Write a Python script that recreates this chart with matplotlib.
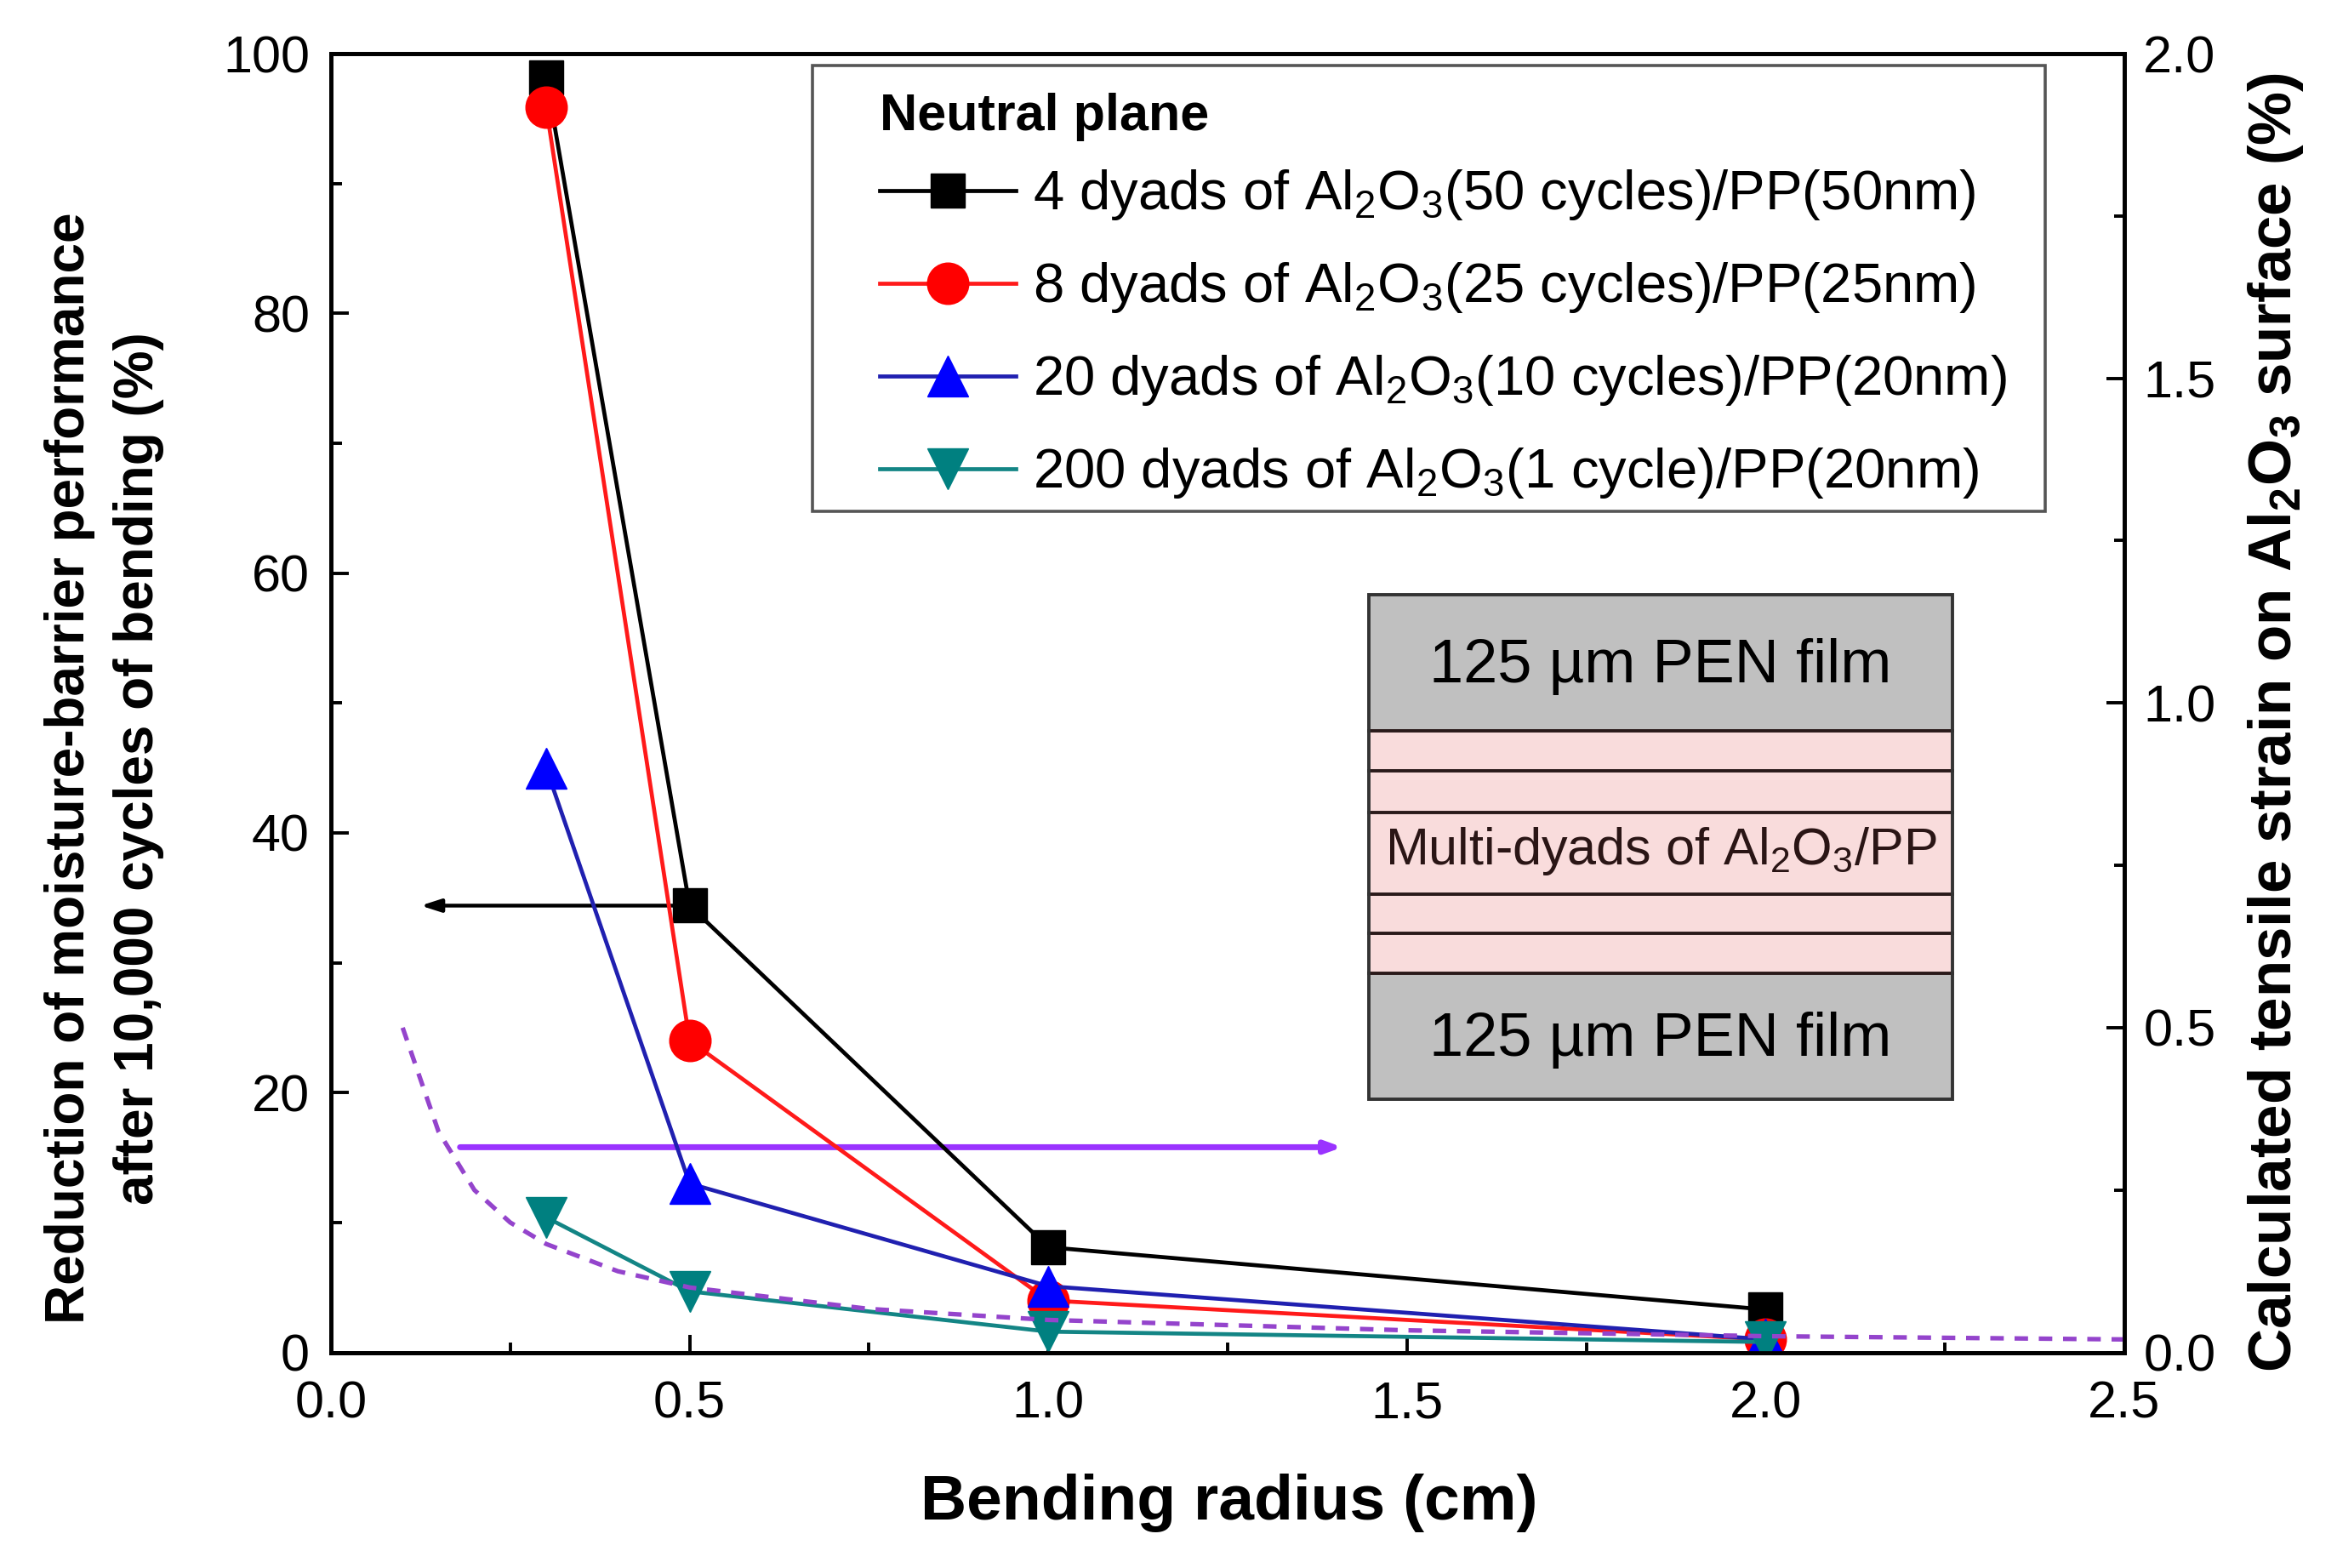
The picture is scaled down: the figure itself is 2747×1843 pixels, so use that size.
import matplotlib
matplotlib.use("Agg")
import matplotlib.pyplot as plt
from matplotlib.patches import Rectangle
from matplotlib.ticker import MultipleLocator, FormatStrFormatter

plt.rcParams['font.family'] = ['Liberation Sans', 'DejaVu Sans']
plt.rcParams['mathtext.fontset'] = 'custom'
plt.rcParams['mathtext.rm'] = 'Liberation Sans'
plt.rcParams['mathtext.it'] = 'Liberation Sans:italic'
plt.rcParams['mathtext.bf'] = 'Liberation Sans:bold'

# ---------------- data ----------------
radius = [0.3, 0.5, 1.0, 2.0]
dyads4 = [98.2, 34.4, 8.1, 3.3]
dyads8 = [95.9, 24.0, 4.0, 1.0]
dyads20 = [45.0, 13.0, 5.1, 1.0]
dyads200 = [10.4, 4.7, 1.6, 0.8]

labels = [
    "4 dyads of Al$_2$O$_3$(50 cycles)/PP(50nm)",
    "8 dyads of Al$_2$O$_3$(25 cycles)/PP(25nm)",
    "20 dyads of Al$_2$O$_3$(10 cycles)/PP(20nm)",
    "200 dyads of Al$_2$O$_3$(1 cycle)/PP(20nm)",
]
legend_title = "Neutral plane"

# calculated strain (right axis)
strain_r = [0.1, 0.15, 0.2, 0.25, 0.3, 0.4, 0.5, 0.75, 1.0, 1.5, 2.0, 2.5]
strain_v = [0.50, 0.34, 0.25, 0.20, 0.167, 0.125, 0.10, 0.067, 0.05, 0.034, 0.025, 0.02]

xticks = [0.0, 0.5, 1.0, 1.5, 2.0, 2.5]
yticks_left = [0, 20, 40, 60, 80, 100]
yticks_right = [0.0, 0.5, 1.0, 1.5, 2.0]

# ---------------- figure ----------------
fig = plt.figure(figsize=(27.47, 18.43), dpi=100)
ax = fig.add_axes([0.1416, 0.1375, 0.9090 - 0.1416, 0.9658 - 0.1375])
ax2 = ax.twinx()

lw = 3.4
ax.plot(radius, dyads4, color='black', lw=lw, marker='s', ms=29,
        mfc='black', mec='black', label=labels[0], zorder=3)
ax.plot(radius, dyads8, color='#ff1a1a', lw=lw, marker='o', ms=35,
        mfc='#ff0000', mec='#ff0000', label=labels[1], zorder=3)
ax.plot(radius, dyads20, color='#2020b0', lw=lw, marker='^', ms=35,
        mfc='#0000ff', mec='#0000ff', label=labels[2], zorder=3)
ax.plot(radius, dyads200, color='#138585', lw=lw, marker='v', ms=35,
        mfc='#008080', mec='#008080', label=labels[3], zorder=3)

ax2.plot(strain_r, strain_v, color='#9444cc', lw=3.8, ls=(0, (3.0, 2.4)), zorder=2)

# arrows
ax.annotate('', xy=(0.125, 34.4), xytext=(0.5, 34.4),
            arrowprops=dict(arrowstyle='-|>,head_length=1.4,head_width=0.45',
                            color='black', lw=3.2, shrinkA=0, shrinkB=0), zorder=2)
ax.annotate('', xy=(1.41, 15.8), xytext=(0.18, 15.8),
            arrowprops=dict(arrowstyle='-|>,head_length=1.1,head_width=0.4',
                            color='#9a33ff', lw=5.0, shrinkA=0, shrinkB=0), zorder=2)

# axes limits & ticks
ax.set_xlim(0, 2.5)
ax.set_ylim(0, 100)
ax2.set_ylim(0, 2.0)
ax.set_xticks(xticks)
ax.set_yticks(yticks_left)
ax2.set_yticks(yticks_right)
ax.xaxis.set_minor_locator(MultipleLocator(0.25))
ax.yaxis.set_minor_locator(MultipleLocator(10))
ax2.yaxis.set_minor_locator(MultipleLocator(0.25))
ax.xaxis.set_major_formatter(FormatStrFormatter('%.1f'))
ax2.yaxis.set_major_formatter(FormatStrFormatter('%.1f'))

ax.tick_params(axis='x', which='both', direction='in', top=False, labelsize=44, pad=24)
ax.tick_params(axis='y', which='both', direction='in', right=False, labelsize=44, pad=18)
ax.tick_params(which='major', length=15, width=2.8)
ax.tick_params(which='minor', length=9, width=2.8)
ax2.tick_params(axis='y', which='both', direction='in', labelsize=44, pad=16)
ax2.tick_params(which='major', length=15, width=2.8)
ax2.tick_params(which='minor', length=9, width=2.8)

for a in (ax, ax2):
    for s in a.spines.values():
        s.set_linewidth(3.4)

ax.set_xlabel('Bending radius (cm)', fontsize=54, fontweight='bold')
ax.xaxis.set_label_coords(0.501, -0.093)
ax.set_ylabel('Reduction of moisture-barrier performance\nafter 10,000 cycles of bending (%)',
              fontsize=46, fontweight='bold', linespacing=1.45)
ax.yaxis.set_label_coords(-0.093, 0.45)
ax2.set_ylabel(r'Calculated tensile strain on Al$_{\mathbf{2}}$O$_{\mathbf{3}}$ surface (%)',
               fontsize=51, fontweight='bold', rotation=90)
ax2.yaxis.set_label_coords(1.068, 0.485)

# legend (frameless, with a separate box and title)
leg = ax.legend(loc='upper left', bbox_to_anchor=(0.306, 0.912),
                fontsize=47, frameon=False,
                handlelength=2.45, handletextpad=0.3,
                labelspacing=0.69, borderpad=0.0, borderaxespad=0)
leg.set_zorder(10)
ax.add_patch(Rectangle((0.2685, 0.6475), 0.6875, 0.3435, transform=ax.transAxes,
                       facecolor='white', edgecolor='#555555', lw=2.6, zorder=9))
ax.text(0.306, 0.951, legend_title, transform=ax.transAxes, ha='left', va='center',
        fontsize=44, fontweight='bold', zorder=11)

# inset (layer structure)
T = ax.transAxes
x0, x1 = 0.5786, 0.9044
ys = [0.5832, 0.4788, 0.4478, 0.4156, 0.3525, 0.3226, 0.2916, 0.1952]
grey = '#c0c0c0'
pink = '#f9dcdc'
ax.add_patch(Rectangle((x0, ys[1]), x1 - x0, ys[0] - ys[1], transform=T,
                       facecolor=grey, edgecolor='none', zorder=5))
ax.add_patch(Rectangle((x0, ys[6]), x1 - x0, ys[1] - ys[6], transform=T,
                       facecolor=pink, edgecolor='none', zorder=5))
ax.add_patch(Rectangle((x0, ys[7]), x1 - x0, ys[6] - ys[7], transform=T,
                       facecolor=grey, edgecolor='none', zorder=5))
for yy in ys[1:7]:
    ax.plot([x0, x1], [yy, yy], transform=T, color='#2a1a1a', lw=2.8, zorder=6)
ax.add_patch(Rectangle((x0, ys[7]), x1 - x0, ys[0] - ys[7], transform=T,
                       facecolor='none', edgecolor='#333333', lw=2.8, zorder=7))
xc = (x0 + x1) / 2
ax.text(xc, (ys[0] + ys[1]) / 2 - 0.003, '125 µm PEN film', transform=T, ha='center',
        va='center', fontsize=52, zorder=8)
ax.text(xc, (ys[6] + ys[7]) / 2 - 0.003, '125 µm PEN film', transform=T, ha='center',
        va='center', fontsize=52, zorder=8)
ax.text(xc, (ys[3] + ys[4]) / 2 + 0.002, 'Multi-dyads of Al$_2$O$_3$/PP', transform=T,
        ha='center', va='center', fontsize=44, color='#2a1515', zorder=8)

fig.savefig('out.png', dpi=100)
